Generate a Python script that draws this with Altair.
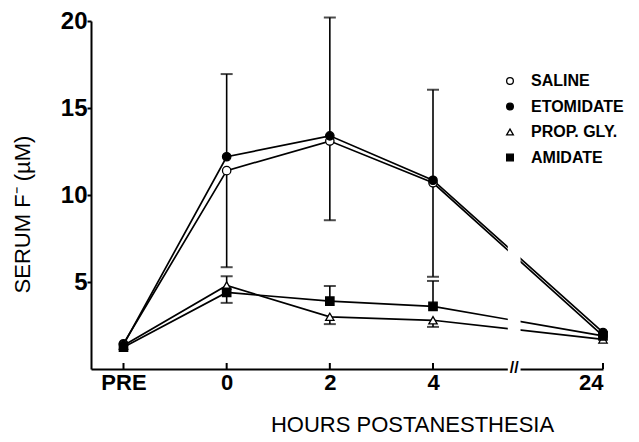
import altair as alt
import pandas as pd

# ---- data ----
series = ["SALINE", "ETOMIDATE", "PROP. GLY.", "AMIDATE"]
time_labels = ["PRE", "0", "2", "4", "24"]
time_hours = [-2, 0, 2, 4, 24]  # PRE is plotted one step before hour 0

saline = [1.45, 11.4, 13.1, 10.7, 1.9]
etomidate = [1.4, 12.2, 13.4, 10.85, 2.1]
prop_gly = [1.35, 4.8, 3.0, 2.8, 1.7]
amidate = [1.25, 4.4, 3.9, 3.6, 1.9]

# one-sided error bar ends
saline_err = [None, 5.85, 8.55, 5.3, None]
etomidate_err = [None, 16.95, 20.2, 16.05, None]
prop_gly_err = [None, 3.8, 2.58, 2.42, None]
amidate_err = [None, 5.33, 4.77, 5.06, None]

shapes = ["circle", "circle", "triangle-up", "square"]
fills = ["white", "black", "white", "black"]

values = [saline, etomidate, prop_gly, amidate]
errs = [saline_err, etomidate_err, prop_gly_err, amidate_err]

rows = []
for s, vals, ers in zip(series, values, errs):
    for lab, h, v, e in zip(time_labels, time_hours, vals, ers):
        rows.append({"series": s, "label": lab, "hour": h, "value": v, "err": e})
df = pd.DataFrame(rows)
err_df = df.dropna(subset=["err"])
legend_df = pd.DataFrame({"series": series})

FONT = "Liberation Sans"

xscale = alt.Scale(domain=[-2.63, 4, 24], range=[0, 342, 512])
yscale = alt.Scale(domain=[0, 20])

xenc = alt.X(
    "hour:Q",
    scale=xscale,
    axis=alt.Axis(
        values=time_hours,
        labelExpr="datum.value == -2 ? 'PRE' : datum.label",
        title="HOURS POSTANESTHESIA",
        ticks=True,
        tickSize=0,
        labelPadding=3,
        grid=False,
        labelFont=FONT,
        labelFontSize=22,
        labelFontWeight="bold",
        labelColor="black",
        titleFont=FONT,
        titleFontSize=22,
        titleFontWeight="normal",
        titleColor="black",
        titleX=321,
        titleY=55,
        titleBaseline="middle",
        domainColor="black",
        domainWidth=2,
    ),
)
yenc = alt.Y(
    "value:Q",
    scale=yscale,
    axis=alt.Axis(
        values=[5, 10, 15, 20],
        title="SERUM F\u207b  (\u00b5M)",
        grid=False,
        tickSize=4,
        tickWidth=2,
        tickColor="black",
        labelPadding=0,
        labelFont=FONT,
        labelFontSize=24,
        labelFontWeight="bold",
        labelColor="black",
        titleFont=FONT,
        titleFontSize=22,
        titleFontWeight="normal",
        titleColor="black",
        titleX=-69,
        titleY=193,
        titleAngle=270,
        titleBaseline="middle",
        titleAlign="center",
        domainColor="black",
        domainWidth=2,
    ),
)

base = alt.Chart(df)

lines = base.mark_line(color="black", strokeWidth=1.7).encode(
    x=xenc, y=yenc, detail="series:N", order="hour:Q"
)

band = alt.Chart(pd.DataFrame({"k": [0]})).mark_rect(color="white").encode(
    x=alt.datum(12.8, scale=xscale), x2=alt.datum(14.3),
    y=alt.value(-5), y2=alt.value(353),
)

slashes = alt.Chart(pd.DataFrame({"k": [0]})).mark_text(
    text="//", font=FONT, fontSize=16, fontWeight="bold", color="black", baseline="middle"
).encode(x=alt.datum(13.55, scale=xscale), y=alt.value(347))

xticks = alt.Chart(pd.DataFrame({"hour": time_hours})).mark_rule(
    color="black", strokeWidth=2
).encode(x=alt.X("hour:Q", scale=xscale), y=alt.value(348), y2=alt.value(342))

err_rules = alt.Chart(err_df).mark_rule(color="black", strokeWidth=1.6).encode(
    x=alt.X("hour:Q", scale=xscale), y=alt.Y("value:Q", scale=yscale), y2="err:Q"
)
caps = alt.Chart(err_df).mark_tick(
    color="black", thickness=2, size=12, orient="horizontal"
).encode(x=alt.X("hour:Q", scale=xscale), y=alt.Y("err:Q", scale=yscale))

points = base.mark_point(
    filled=False, color="black", stroke="black", strokeWidth=1.3, size=70,
    opacity=1, fillOpacity=1,
).encode(
    x=alt.X("hour:Q", scale=xscale),
    y=alt.Y("value:Q", scale=yscale),
    shape=alt.Shape("series:N", scale=alt.Scale(domain=series, range=shapes), legend=None),
    fill=alt.Fill("series:N", scale=alt.Scale(domain=series, range=fills), legend=None),
)

# hand-built legend (one entry per series)
legend_layers = []
for i, s in enumerate(series):
    entry = alt.Chart(legend_df).transform_filter(alt.datum.series == s)
    legend_layers.append(
        entry.mark_point(
            shape=shapes[i], fill=fills[i], stroke="black", strokeWidth=1.3,
            size=45, opacity=1, fillOpacity=1,
        ).encode(x=alt.value(419), y=alt.value(60 + 25.5 * i))
    )
    legend_layers.append(
        entry.mark_text(
            align="left", baseline="middle", font=FONT, fontSize=16,
            fontWeight="bold", color="black",
        ).encode(text="series:N", x=alt.value(440), y=alt.value(60 + 25.5 * i))
    )

chart = alt.layer(
    lines, band, err_rules, caps, points, xticks, slashes, *legend_layers
).properties(
    width=512,
    height=348,
    autosize=alt.AutoSizeParams(type="none"),
    padding={"left": 83, "top": 13, "right": 28, "bottom": 72},
    background="white",
).configure_view(stroke=None)

chart.save("out.html", embed_options={"renderer": "svg", "actions": False})
